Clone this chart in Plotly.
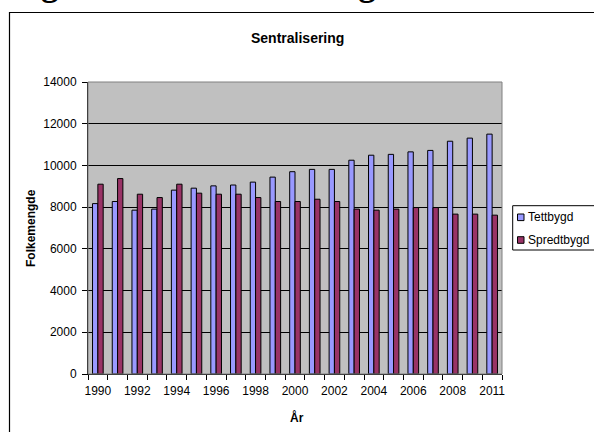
import plotly.graph_objects as go

years = ["1990", "1991", "1992", "1993", "1994", "1995", "1996", "1997", "1998", "1999",
         "2000", "2001", "2002", "2003", "2004", "2005", "2006", "2007", "2008", "2009", "2011"]
tettbygd = [8170, 8270, 7855, 7905, 8815, 8910, 9020, 9060, 9200, 9440,
            9700, 9810, 9810, 10250, 10490, 10530, 10650, 10720, 11160, 11310, 11500]
spredtbygd = [9100, 9370, 8620, 8460, 9100, 8670, 8620, 8620, 8460, 8270,
              8270, 8380, 8270, 7905, 7855, 7905, 7980, 7980, 7665, 7665, 7615]
tick_text = [y if i % 2 == 0 else "" for i, y in enumerate(years)]
series_names = ["Tettbygd", "Spredtbygd"]
colors = ["#9999FF", "#993366"]

W, H = 594, 432
L, R, T, B = 88, 92, 82, 58
PW, PH = W - L - R, H - T - B


def px(xp):
    return (xp - L) / PW


def py(yp):
    return (H - B - yp) / PH


FONT = "Liberation Sans, Arial, sans-serif"

fig = go.Figure()
for name, vals, col in zip(series_names, [tettbygd, spredtbygd], colors):
    fig.add_trace(go.Bar(x=years, y=vals, name=name, marker=dict(color=col, line=dict(color="black", width=1))))

fig.update_layout(
    width=W, height=H,
    margin=dict(l=L, r=R, t=T, b=B, autoexpand=False),
    paper_bgcolor="white", plot_bgcolor="#C0C0C0",
    barmode="group", bargap=0.46, bargroupgap=0,
    showlegend=False,
    font=dict(family=FONT, size=12, color="black"),
)
fig.update_xaxes(
    type="category", tickmode="array", tickvals=years, ticktext=tick_text, tickangle=0,
    tickson="boundaries", ticks="outside", ticklen=5, tickcolor="black", ticklabelstandoff=6,
    showline=True, linecolor="black", linewidth=1, showgrid=False,
    tickfont=dict(family=FONT, size=12, color="black"),
)
fig.update_yaxes(
    range=[0, 14000], dtick=2000, tick0=0, tickformat="d", ticks="outside", ticklen=5, tickcolor="black",
    ticklabelstandoff=3,
    showline=True, linecolor="black", linewidth=1,
    showgrid=True, gridcolor="black", gridwidth=1, zeroline=False,
    tickfont=dict(family=FONT, size=12, color="black"),
)

shapes = [
    # outer chart border
    dict(type="rect", xref="paper", yref="paper", x0=px(9.5), x1=px(620), y0=py(12.5), y1=py(460),
         line=dict(color="black", width=1.2), fillcolor="rgba(0,0,0,0)"),
    # plot area border
    dict(type="rect", xref="paper", yref="paper", x0=0, x1=1, y0=0, y1=1,
         line=dict(color="#808080", width=1), fillcolor="rgba(0,0,0,0)"),
    # legend box
    dict(type="rect", xref="paper", yref="paper", x0=px(512.7), x1=px(620), y0=py(250), y1=py(205.7),
         line=dict(color="black", width=1), fillcolor="white"),
]
legend_y = [217.3, 240]
for col, yc in zip(colors, legend_y):
    shapes.append(dict(type="rect", xref="paper", yref="paper", x0=px(517.5), x1=px(524),
                       y0=py(yc + 3.3), y1=py(yc - 3.3),
                       line=dict(color="black", width=1), fillcolor=col))
fig.update_layout(shapes=shapes)

annotations = [
    dict(text="<b>Sentralisering</b>", xref="paper", yref="paper", x=px(297), y=py(38),
         xanchor="center", yanchor="middle", showarrow=False, font=dict(family=FONT, size=14)),
    dict(text="<b>Folkemengde</b>", xref="paper", yref="paper", x=px(31), y=0.5, textangle=-90,
         xanchor="center", yanchor="middle", showarrow=False, font=dict(family=FONT, size=12)),
    dict(text="<b>År</b>", xref="paper", yref="paper", x=px(297), y=py(417),
         xanchor="center", yanchor="middle", showarrow=False, font=dict(family=FONT, size=12)),
    dict(text="<b>Figur 1.1: Sentralisering</b>", xref="paper", yref="paper", x=px(8), y=py(5),
         xanchor="left", yanchor="bottom", showarrow=False,
         font=dict(family="Liberation Serif, Times New Roman, serif", size=35)),
]
for name, yc in zip(series_names, legend_y):
    annotations.append(dict(text=name, xref="paper", yref="paper", x=px(526), y=py(yc),
                            xanchor="left", yanchor="middle", showarrow=False,
                            font=dict(family=FONT, size=12)))
fig.update_layout(annotations=annotations)

fig.write_html("out.html", config={"displayModeBar": False},
               post_script="document.body.style.margin='0';")
